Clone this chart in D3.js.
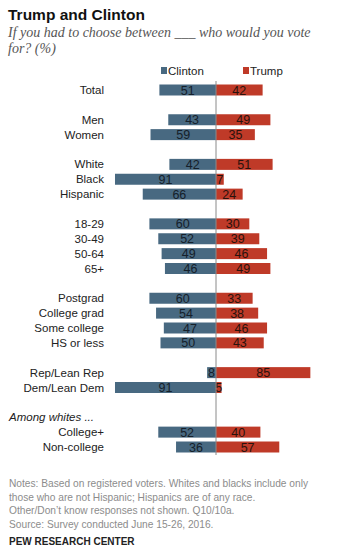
<!DOCTYPE html>
<html>
<head>
<meta charset="utf-8">
<script src="https://cdn.jsdelivr.net/npm/d3@7"></script>
<style>
  body { margin: 0; background: #fff; }
  svg { display: block; font-family: "Liberation Sans", Arial, sans-serif; }
</style>
</head>
<body>
<div id="chart"></div>
<script>
// rows of the chart, with the slot each one sits in (blank slots give the group gaps)
var categories = ["Total", "Men", "Women", "White", "Black", "Hispanic",
    "18-29", "30-49", "50-64", "65+",
    "Postgrad", "College grad", "Some college", "HS or less",
    "Rep/Lean Rep", "Dem/Lean Dem", "College+", "Non-college"];
var slots = [0, 2, 3, 5, 6, 7, 9, 10, 11, 12, 14, 15, 16, 17, 19, 20, 23, 24];
var clinton = [51, 43, 59, 42, 91, 66, 60, 52, 49, 46, 60, 54, 47, 50, 8, 91, 52, 36];
var trump = [42, 49, 35, 51, 7, 24, 30, 39, 46, 49, 33, 38, 46, 43, 85, 5, 40, 57];
var seriesNames = ["Clinton", "Trump"];
var notes = [
    "Notes: Based on registered voters. Whites and blacks include only",
    "those who are not Hispanic; Hispanics are of any race.",
    "Other/Don\u2019t know responses not shown. Q10/10a.",
    "Source: Survey conducted June 15-26, 2016."
];

var width = 337, height = 547;
var blue = "#486981", red = "#bf3a28";
var cx = 216;

var svg = d3.select("#chart").append("svg")
    .attr("width", width)
    .attr("height", height);

// title and question
svg.append("text")
    .attr("x", 8).attr("y", 20)
    .style("font-weight", "bold")
    .style("font-size", "15.5px")
    .style("fill", "#111")
    .text("Trump and Clinton");

var sub = svg.append("text")
    .style("font-family", "'Liberation Serif', Georgia, serif")
    .style("font-style", "italic")
    .style("font-size", "14px")
    .style("fill", "#555");
sub.append("tspan").attr("x", 8).attr("y", 37).text("If you had to choose between ___ who would you vote");
sub.append("tspan").attr("x", 8).attr("y", 53).text("for? (%)");

var x = d3.scaleLinear().domain([0, 100]).range([0, 111]);
var y = d3.scaleLinear().domain([0, 24]).range([90, 447]);
var barH = 11;

var rows = categories.map(function (c, i) {
    return { name: c, slot: slots[i], clinton: clinton[i], trump: trump[i] };
});

// legend
var legend = svg.append("g").style("font-size", "11.5px").style("fill", "#222");
[[blue, 161], [red, 243]].forEach(function (d, i) {
    legend.append("rect").attr("x", d[1]).attr("y", 67).attr("width", 6).attr("height", 7).attr("fill", d[0]);
    legend.append("text").attr("x", d[1] + 7).attr("y", 75).text(seriesNames[i]);
});

var row = svg.selectAll(".row")
    .data(rows)
    .enter().append("g")
    .attr("class", "row")
    .attr("transform", function (d) { return "translate(0," + y(d.slot) + ")"; });

row.append("rect")
    .attr("x", function (d) { return cx - x(d.clinton); })
    .attr("y", -barH / 2)
    .attr("width", function (d) { return x(d.clinton); })
    .attr("height", barH)
    .attr("fill", blue);

row.append("rect")
    .attr("x", cx)
    .attr("y", -barH / 2)
    .attr("width", function (d) { return x(d.trump); })
    .attr("height", barH)
    .attr("fill", red);

row.append("text")
    .attr("x", 104)
    .attr("y", 4)
    .attr("text-anchor", "end")
    .style("font-size", "11.5px")
    .style("fill", "#222")
    .text(function (d) { return d.name; });

row.append("text")
    .attr("x", function (d) { return cx - x(d.clinton) / 2; })
    .attr("y", 4.5)
    .attr("text-anchor", "middle")
    .style("font-size", "12.5px")
    .style("fill", "#15202a")
    .text(function (d) { return d.clinton; });

row.append("text")
    .attr("x", function (d) { return cx + x(d.trump) / 2; })
    .attr("y", 4.5)
    .attr("text-anchor", "middle")
    .style("font-size", "12.5px")
    .style("fill", "#2a120c")
    .text(function (d) { return d.trump; });

// divider between the two candidates
svg.append("line")
    .attr("x1", cx).attr("x2", cx)
    .attr("y1", 81).attr("y2", 455)
    .attr("stroke", "#8a8a8a")
    .attr("stroke-width", 1);

svg.append("text")
    .attr("x", 9).attr("y", y(22) + 4)
    .style("font-style", "italic")
    .style("font-size", "11.5px")
    .style("fill", "#222")
    .text("Among whites ...");

svg.append("g").selectAll("text")
    .data(notes)
    .enter().append("text")
    .attr("x", 9)
    .attr("y", function (d, i) { return 487 + i * 13.5; })
    .style("font-size", "10.2px")
    .style("fill", "#8c8c8c")
    .text(function (d) { return d; });

svg.append("text")
    .attr("x", 9).attr("y", 545)
    .style("font-weight", "bold")
    .style("font-size", "10px")
    .style("fill", "#222")
    .text("PEW RESEARCH CENTER");
</script>
</body>
</html>
